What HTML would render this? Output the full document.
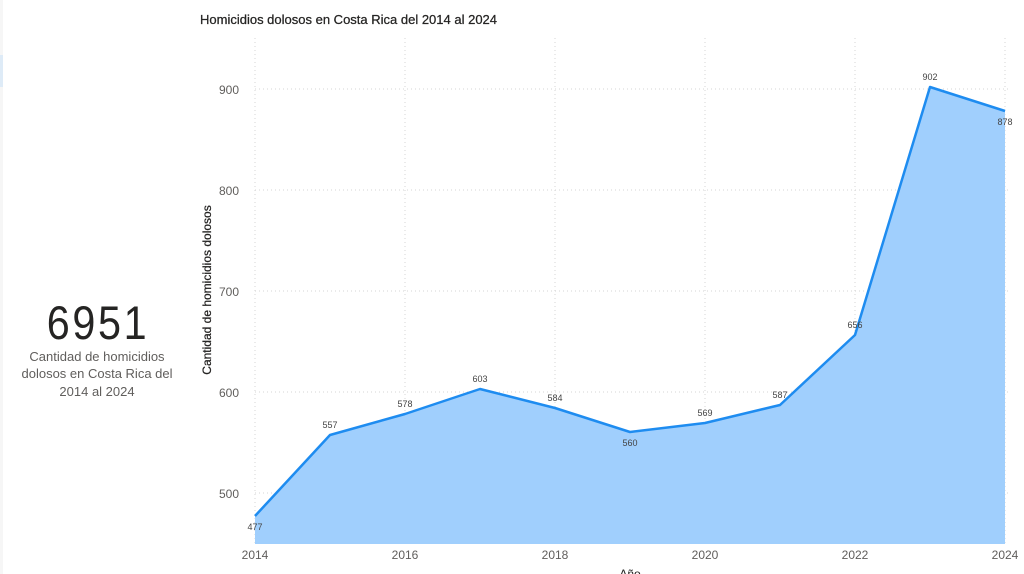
<!DOCTYPE html>
<html><head><meta charset="utf-8"><style>
body{margin:0;width:1024px;height:574px;background:#fff;overflow:hidden;font-family:"Liberation Sans",sans-serif;}
</style></head><body>
<svg width="1024" height="574" xmlns="http://www.w3.org/2000/svg" style="position:absolute;left:0;top:0">
<rect x="0" y="0" width="3" height="574" fill="#f6f6f6"/>
<rect x="0" y="55" width="3" height="32" fill="#deebf7"/>
<text x="200" y="24" font-size="13" fill="#252423" stroke="#252423" stroke-width="0.25">Homicidios dolosos en Costa Rica del 2014 al 2024</text>
<g stroke="#d6d6d6" stroke-dasharray="1,3" stroke-width="1">
<line x1="255" y1="38" x2="255" y2="544"/><line x1="405" y1="38" x2="405" y2="544"/><line x1="555" y1="38" x2="555" y2="544"/><line x1="705" y1="38" x2="705" y2="544"/><line x1="855" y1="38" x2="855" y2="544"/><line x1="1005" y1="38" x2="1005" y2="544"/>
<line x1="255" y1="89" x2="1010" y2="89"/><line x1="255" y1="190" x2="1010" y2="190"/><line x1="255" y1="291" x2="1010" y2="291"/><line x1="255" y1="392" x2="1010" y2="392"/><line x1="255" y1="493" x2="1010" y2="493"/>
</g>
<g font-size="12" fill="#605e5c" text-anchor="end">
<text x="239" y="94">900</text><text x="239" y="195">800</text><text x="239" y="296">700</text><text x="239" y="397">600</text><text x="239" y="498">500</text>
</g>
<g font-size="12" fill="#605e5c" text-anchor="middle">
<text x="255" y="559">2014</text><text x="405" y="559">2016</text><text x="555" y="559">2018</text><text x="705" y="559">2020</text><text x="855" y="559">2022</text><text x="1005" y="559">2024</text>
<text x="630" y="578" fill="#252423">Año</text>
</g>
<text transform="translate(211,290) rotate(-90)" font-size="12" fill="#252423" stroke="#252423" stroke-width="0.25" text-anchor="middle">Cantidad de homicidios dolosos</text>
<polygon fill="#a0cffd" points="255,544 255,516 330,435 405,414 480,389 555,408 630,432 705,423 780,405 855,335 930,87 1005,111 1005,544"/>
<polyline fill="none" stroke="#1e8cf0" stroke-width="2.5" stroke-linejoin="round" points="255,516 330,435 405,414 480,389 555,408 630,432 705,423 780,405 855,335 930,87 1005,111"/>
<g font-size="9" fill="#444" text-anchor="middle">
<text x="255" y="530">477</text><text x="330" y="428">557</text><text x="405" y="407">578</text><text x="480" y="382">603</text><text x="555" y="401">584</text><text x="630" y="446">560</text><text x="705" y="416">569</text><text x="780" y="398">587</text><text x="855" y="328">656</text><text x="930" y="80">902</text><text x="1005" y="125">878</text>
</g>
<text transform="translate(98,339) scale(0.88,1)" font-size="47" fill="#252423" text-anchor="middle" letter-spacing="3">6951</text>
<g font-size="13" fill="#605e5c" text-anchor="middle">
<text x="97" y="361">Cantidad de homicidios</text><text x="97" y="378">dolosos en Costa Rica del</text><text x="97" y="396">2014 al 2024</text>
</g>
</svg>
</body></html>
